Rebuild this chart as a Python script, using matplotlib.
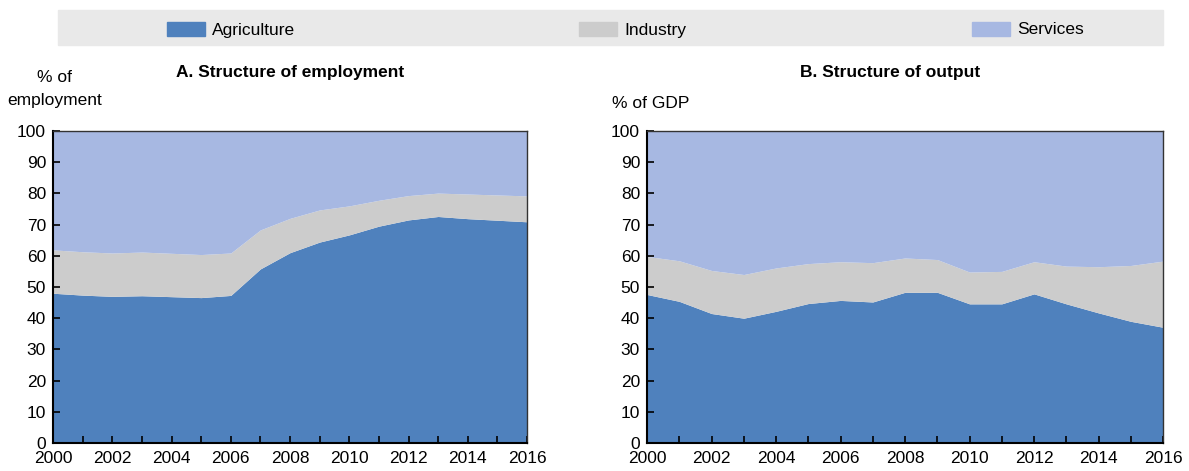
import numpy as np
import matplotlib
matplotlib.use("Agg")
import matplotlib.pyplot as plt
from matplotlib.patches import Rectangle

plt.rcParams["font.family"] = ["Liberation Sans", "DejaVu Sans"]

years = list(range(2000, 2017))
sectors = ["Agriculture", "Industry", "Services"]
colors = ["#4f81bd", "#cccccc", "#a7b8e2"]

# Panel A: share of employment (agriculture, cumulative agriculture+industry)
emp_agri = [48.0, 47.4, 47.0, 47.2, 46.9, 46.6, 47.3, 55.8, 61.0, 64.4,
            66.7, 69.5, 71.5, 72.6, 71.9, 71.4, 70.9]
emp_agri_ind = [61.9, 61.3, 60.9, 61.2, 60.8, 60.4, 60.9, 68.3, 72.0, 74.7,
                76.0, 77.8, 79.3, 80.1, 79.8, 79.5, 79.2]

# Panel B: share of GDP
gdp_agri = [47.6, 45.4, 41.5, 40.0, 42.2, 44.7, 45.7, 45.2, 48.3, 48.3,
            44.6, 44.6, 47.8, 44.6, 41.7, 39.0, 37.1]
gdp_agri_ind = [59.8, 58.4, 55.3, 54.0, 56.1, 57.5, 58.1, 57.8, 59.3, 58.8,
                54.8, 55.0, 58.1, 56.7, 56.5, 56.9, 58.3]

W, H = 1189, 471
fig = plt.figure(figsize=(W / 100, H / 100), dpi=100)


def box(x0, y0, x1, y1):
    return [x0 / W, 1 - y1 / H, (x1 - x0) / W, (y1 - y0) / H]


def panel(ax, agri, agri_ind):
    agri = np.array(agri)
    agri_ind = np.array(agri_ind)
    ax.fill_between(years, 0, agri, color=colors[0], lw=0)
    ax.fill_between(years, agri, agri_ind, color=colors[1], lw=0)
    ax.fill_between(years, agri_ind, 100, color=colors[2], lw=0)
    ax.set_xlim(2000, 2016)
    ax.set_ylim(0, 100)
    ax.set_yticks(range(0, 101, 10))
    ax.set_xticks(range(2000, 2017, 2))
    ax.set_xticks(range(2000, 2017), minor=True)
    ax.tick_params(axis="both", direction="in", length=5, width=1.2,
                   labelsize=12.5, colors="black")
    ax.tick_params(axis="x", which="minor", direction="in", length=5, width=1.2)
    ax.tick_params(axis="x", pad=6)
    ax.tick_params(axis="y", pad=5)
    for s in ax.spines.values():
        s.set_linewidth(1.0)
        s.set_color("#333333")
    ax.spines["left"].set_linewidth(1.5)
    ax.spines["bottom"].set_linewidth(1.5)
    ax.spines["left"].set_color("black")
    ax.spines["bottom"].set_color("black")


ax1 = fig.add_axes(box(53, 131, 527, 443))
panel(ax1, emp_agri, emp_agri_ind)
ax2 = fig.add_axes(box(647, 131, 1163, 443))
panel(ax2, gdp_agri, gdp_agri_ind)

# titles and unit labels
fig.text(290 / W, 1 - 73 / H, "A. Structure of employment", ha="center",
         va="center", fontsize=12.5, fontweight="bold")
fig.text(890 / W, 1 - 73 / H, "B. Structure of output", ha="center",
         va="center", fontsize=12.5, fontweight="bold")
fig.text(55 / W, 1 - 77 / H, "% of", ha="center", va="center", fontsize=12.5)
fig.text(55 / W, 1 - 101 / H, "employment", ha="center", va="center", fontsize=12.5)
fig.text(612 / W, 1 - 104 / H, "% of GDP", ha="left", va="center", fontsize=12.5)

# legend band
fig.patches.append(Rectangle((58 / W, 1 - 45 / H), (1163 - 58) / W, 35 / H,
                             transform=fig.transFigure, color="#e9e9e9", zorder=0))
leg_x = [167, 579, 972]
for x, name, c in zip(leg_x, sectors, colors):
    fig.patches.append(Rectangle((x / W, 1 - 36 / H), 38 / W, 14 / H,
                                 transform=fig.transFigure, color=c, zorder=1))
    fig.text((x + 45) / W, 1 - 30 / H, name, ha="left", va="center", fontsize=12.5)

fig.savefig("out.png", dpi=100)
